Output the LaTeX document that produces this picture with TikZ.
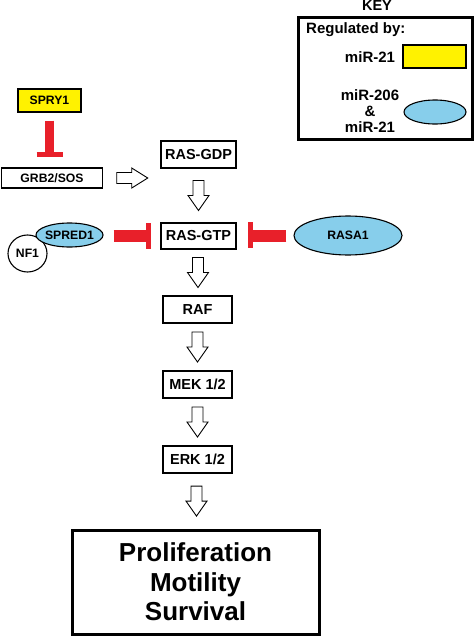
\documentclass[tikz,border=0pt]{standalone}
\usepackage{fontspec}
\setmainfont{Liberation Sans}
\usetikzlibrary{shapes.geometric,calc}
\definecolor{inhred}{RGB}{232,32,42}
\definecolor{kyellow}{RGB}{255,242,0}
\definecolor{kblue}{RGB}{135,206,235}
\begin{document}
\begin{tikzpicture}[x=1pt,y=-1pt,
  bigtxt/.style={font=\bfseries\fontsize{14.5}{17}\selectfont},
  keytxt/.style={font=\bfseries\fontsize{15}{16}\selectfont},
  smalltxt/.style={font=\bfseries\fontsize{12.2}{14}\selectfont},
  box/.style={draw, line width=1.3pt, inner sep=0pt, bigtxt},
  sbox/.style={draw, line width=1.3pt, inner sep=0pt, smalltxt},
  ell/.style={ellipse, draw, line width=1.1pt, inner sep=0pt, smalltxt},
  inhstem/.style={draw=inhred, line cap=butt},
  inhbar/.style={draw=inhred, line width=5pt, line cap=butt},
  darrow/.pic={\draw[line width=0.9pt, fill=white] (-5.5,-15) -- (5.5,-15) -- (5.5,0) -- (10.5,0) -- (0,15) -- (-10.5,0) -- (-5.5,0) -- cycle;},
  rarrow/.pic={\draw[line width=0.9pt, fill=white] (-15,-5.5) -- (0,-5.5) -- (0,-10) -- (16,0) -- (0,10) -- (0,5.5) -- (-15,5.5) -- cycle;}
]
\useasboundingbox (0,0) rectangle (474,637);

% key
\node[bigtxt] (keyt) at (377,6) {KEY};
\node[draw, line width=3pt, minimum width=174pt, minimum height=122pt, inner sep=0pt] (keybox) at (385.5,78.5) {};
\node[keytxt, anchor=west, inner sep=0pt] (reg) at (306,30) {Regulated by:};
\node[keytxt, inner sep=0pt] (k21) at (370,57) {miR-21};
\node[draw, line width=1.1pt, fill=kyellow, minimum width=63pt, minimum height=23pt, inner sep=0pt] (kyel) at (434.5,56.5) {};
\node[keytxt, align=center, inner sep=0pt] (k206) at (370,111) {miR-206\\\&\\miR-21};
\node[ellipse, draw, line width=1.1pt, fill=kblue, minimum width=62pt, minimum height=24pt, inner sep=0pt] (kell) at (435,112) {};

% left side
\node[sbox, fill=kyellow, minimum width=63pt, minimum height=23pt] (spry) at (49.5,100.5) {SPRY1};
\node[sbox, minimum width=101pt, minimum height=20pt] (grb) at (52,178) {GRB2/SOS};
\node[ell, fill=white, minimum width=39pt, minimum height=37pt] (nf1) at (27.5,253.5) {\makebox[0pt]{NF1}};
\node[ell, fill=kblue, minimum width=67pt, minimum height=24pt] (spred) at (69.5,235) {\makebox[0pt]{SPRED1}};
\node[ell, fill=kblue, minimum width=108pt, minimum height=39pt] (rasa) at (348,235.5) {\makebox[0pt]{RASA1}};

% main chain
\node[box, minimum width=75pt, minimum height=27pt] (gdp) at (198.5,154.5) {RAS-GDP};
\node[box, minimum width=75pt, minimum height=26pt] (gtp) at (198.5,236) {RAS-GTP};
\node[box, minimum width=69pt, minimum height=27pt] (raf) at (197.5,309.5) {RAF};
\node[box, minimum width=69pt, minimum height=27pt] (mek) at (197.5,384.5) {MEK 1/2};
\node[box, minimum width=69pt, minimum height=27pt] (erk) at (197.5,459.5) {ERK 1/2};
\node[draw, line width=3pt, minimum width=247pt, minimum height=104pt, inner sep=0pt, align=center,
      font=\bfseries\fontsize{26}{29.5}\selectfont] (prol) at (195.5,582) {Proliferation\\Motility\\Survival};

% hollow block arrows
\pic at ($(grb.east)!0.5!(grb.east -| gdp.west)$) {rarrow};
\pic at ($(gdp.south)!0.5!(gtp.north)$) {darrow};
\pic at ($(gtp.south)!0.5!(raf.north)$) {darrow};
\pic at ($(raf.south)!0.5!(mek.north)$) {darrow};
\pic at ($(mek.south)!0.5!(erk.north)$) {darrow};
\pic at ($(erk.south)!0.5!(prol.north)$) {darrow};

% inhibitions
\draw[inhstem, line width=9pt, shorten <=8pt, shorten >=12pt] (spry.south) -- (spry.south |- grb.north);
\draw[inhbar] ($(spry.south |- grb.north)+(-13,-12.5)$) -- ++(26,0);

\draw[inhstem, line width=12pt, shorten <=10pt, shorten >=13pt] (gtp.west -| spred.east) -- (gtp.west);
\draw[inhbar] ($(gtp.west)+(-11.5,-13)$) -- ++(0,26);

\draw[inhstem, line width=12pt, shorten <=7pt, shorten >=15pt] (gtp.east -| rasa.west) -- (gtp.east);
\draw[inhbar] ($(gtp.east)+(14,-14)$) -- ++(0,26);
\end{tikzpicture}
\end{document}
